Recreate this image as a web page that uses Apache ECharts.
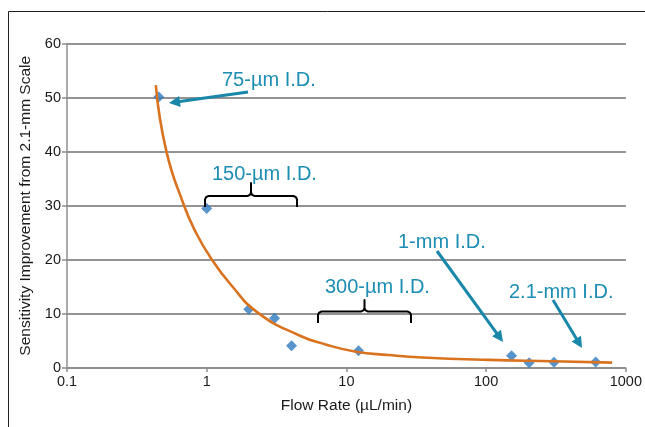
<!DOCTYPE html>
<html>
<head>
<meta charset="utf-8">
<script src="https://cdn.jsdelivr.net/npm/echarts@6/dist/echarts.min.js"></script>
<style>
html,body{margin:0;padding:0;background:#fff;}
#chart{width:645px;height:427px;}
</style>
</head>
<body>
<div id="chart"></div>
<script>
// ---- data ----
var flowRates = [0.454, 1.0, 2.0, 3.06, 4.05, 12.2, 152, 203, 306, 608];
var sensitivity = [50.1, 29.5, 10.85, 9.2, 4.1, 3.2, 2.27, 0.98, 1.05, 1.1];
var trendX = [0.432, 0.515, 0.689, 0.82, 1.06, 1.5, 2.33, 4.61, 7, 11.7, 20, 35, 105, 300, 798];
var trendY = [52.3, 40, 30, 25.5, 20.5, 15.3, 10.2, 6.0, 4.4, 3.0, 2.4, 1.95, 1.5, 1.25, 1.0];
var xTickLabels = ['0.1', '1', '10', '100', '1000'];
var yTickLabels = ['0', '10', '20', '30', '40', '50', '60'];
var xTitle = 'Flow Rate (\u00B5L/min)';
var yTitle = 'Sensitivity Improvement from 2.1-mm Scale';
var annotations = ['75-\u00B5m I.D.', '150-\u00B5m I.D.', '300-\u00B5m I.D.', '1-mm I.D.', '2.1-mm I.D.'];

var FONT = '"Liberation Sans", Arial, sans-serif';
var chart = echarts.init(document.getElementById('chart'), null, {renderer: 'canvas'});

function arrow(x1, y1, x2, y2, color) {
  var dx = x2 - x1, dy = y2 - y1, L = Math.sqrt(dx*dx + dy*dy);
  var ux = dx / L, uy = dy / L, hl = 11, hw = 5.5;
  var bx = x2 - ux * hl, by = y2 - uy * hl;
  return [
    {type: 'line', shape: {x1: x1, y1: y1, x2: bx + ux*2, y2: by + uy*2}, style: {stroke: color, lineWidth: 3}, z: 100},
    {type: 'polygon', shape: {points: [[x2, y2], [bx - uy*hw, by + ux*hw], [bx + uy*hw, by - ux*hw]]}, style: {fill: color}, z: 100}
  ];
}
function bracket(xl, xr, y, yEnd, yPeak) {
  var xc = (xl + xr) / 2, r = 3.5, k = 0.3;
  var pts = [
    [xl, yEnd], [xl, y + r], [xl + r*k, y + r*k], [xl + r, y],
    [xc - r, y], [xc - r*k, y - r*k], [xc, y - r], [xc, yPeak], [xc, y - r],
    [xc + r*k, y - r*k], [xc + r, y], [xr - r, y], [xr - r*k, y + r*k], [xr, y + r], [xr, yEnd]
  ];
  return {type: 'polyline', shape: {points: pts}, style: {stroke: '#000', lineWidth: 2, fill: null, lineJoin: 'round'}, z: 100};
}
function label(t, x, y) {
  return {type: 'text', x: x, y: y, style: {text: t, fill: '#1C8DB3', font: '20px ' + FONT, textAlign: 'left', textVerticalAlign: 'middle'}, z: 100};
}

var arrowColor = '#1887AA';
var graphics = [
  {type: 'rect', shape: {x: 8.5, y: 11.5, width: 700, height: 500}, style: {stroke: '#222', lineWidth: 1, fill: null}, z: 0},
  label(annotations[0], 222, 80),
  label(annotations[1], 212, 174),
  label(annotations[2], 325, 287),
  label(annotations[3], 398, 242),
  label(annotations[4], 509, 292),
  bracket(205, 297, 196, 207, 183),
  bracket(318, 411, 311.5, 323, 300)
].concat(arrow(248, 92, 169, 103, arrowColor))
 .concat(arrow(437, 251, 503, 342, arrowColor))
 .concat(arrow(553, 300, 582, 348, arrowColor));

var scatterData = flowRates.map(function (x, i) { return [x, sensitivity[i]]; });
var trendData = trendX.map(function (x, i) { return [x, trendY[i]]; });

chart.setOption({
  animation: false,
  backgroundColor: '#fff',
  grid: {left: 67, right: 17.5, top: 43.5, bottom: 59},
  xAxis: {
    type: 'log', logBase: 10, min: 0.1, max: 1000,
    name: xTitle, nameLocation: 'middle', nameGap: 30,
    nameTextStyle: {fontFamily: FONT, fontSize: 15.5, color: '#1a1a1a'},
    axisLine: {lineStyle: {color: '#8f8f8f', width: 1.5}},
    axisTick: {show: true, length: 4, lineStyle: {color: '#8f8f8f', width: 1.5}},
    axisLabel: {fontFamily: FONT, fontSize: 14.5, color: '#1a1a1a', margin: 6,
      formatter: function (v) { var s = String(+(+v).toPrecision(6)); return xTickLabels.indexOf(s) >= 0 ? s : ''; }},
    splitLine: {show: false},
    minorTick: {show: false}
  },
  yAxis: {
    type: 'value', min: 0, max: 60, interval: 10,
    name: yTitle, nameLocation: 'middle', nameGap: 32,
    nameTextStyle: {fontFamily: FONT, fontSize: 15.5, color: '#1a1a1a'},
    axisLine: {show: true, lineStyle: {color: '#8f8f8f', width: 1.5}},
    axisTick: {show: true, length: 5, lineStyle: {color: '#8f8f8f', width: 1.5}},
    axisLabel: {fontFamily: FONT, fontSize: 14.5, color: '#1a1a1a', margin: 6,
      formatter: function (v) { return yTickLabels[Math.round(v / 10)]; }},
    splitLine: {show: true, lineStyle: {color: '#939393', width: 1.8}}
  },
  series: [
    {
      type: 'scatter', data: scatterData, symbol: 'diamond', symbolSize: 11,
      itemStyle: {color: '#2E79BF'}, z: 2
    },
    {
      type: 'line', data: trendData, smooth: true, showSymbol: false, symbol: 'none',
      lineStyle: {color: '#D9731F', width: 2.6}, z: 3
    }
  ],
  graphic: graphics
});
</script>
</body>
</html>
